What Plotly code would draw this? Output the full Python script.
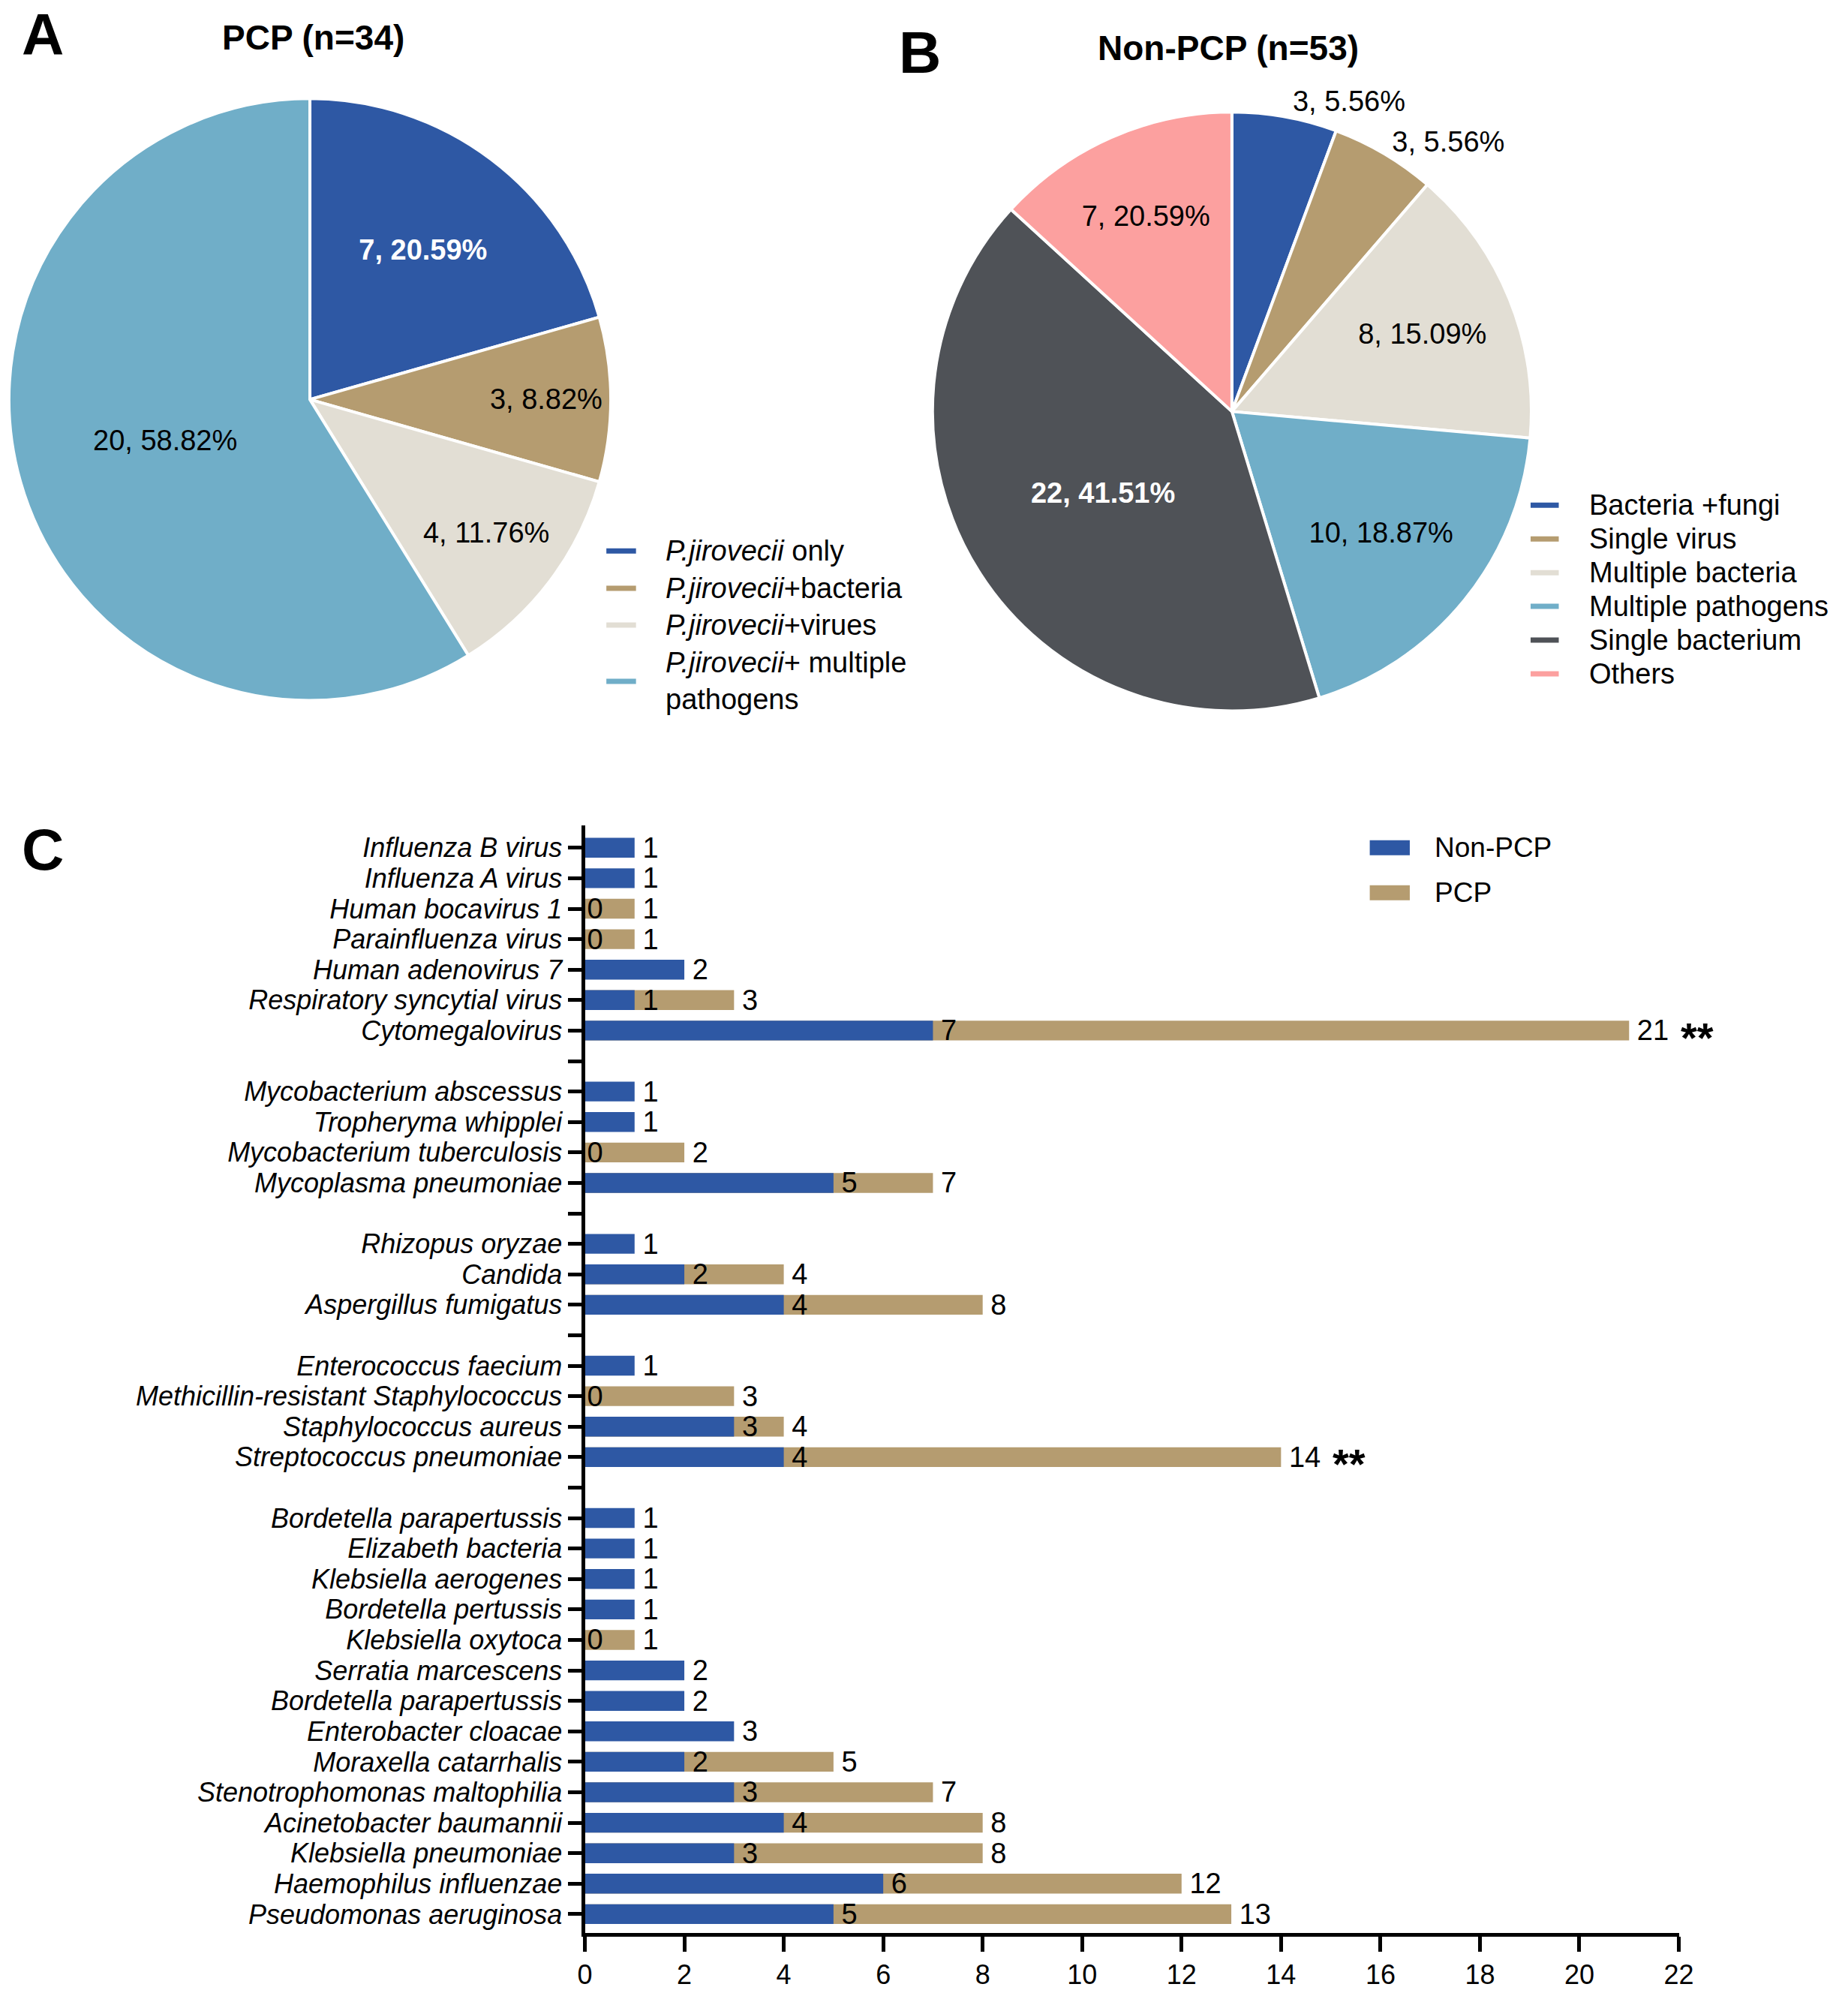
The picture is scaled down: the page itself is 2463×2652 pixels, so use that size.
import plotly.graph_objects as go

W, H = 2463, 2652
FONT = "Liberation Sans, Arial, sans-serif"

BLUE = "#2E58A4"
TAN = "#B59C70"
BEIGE = "#E2DED4"
LBLUE = "#70AEC8"
GRAY = "#4F5257"
PINK = "#FCA09F"

# ---------------- Panel A data ----------------
pcp_groups = ["<i>P.jirovecii</i> only", "<i>P.jirovecii</i>+bacteria",
              "<i>P.jirovecii</i>+virues", "<i>P.jirovecii</i>+ multiple<br>pathogens"]
pcp_counts = [7, 3, 4, 20]
pcp_pcts = ["20.59%", "8.82%", "11.76%", "58.82%"]
pcp_colors = [BLUE, TAN, BEIGE, LBLUE]

# ---------------- Panel B data ----------------
nonpcp_groups = ["Bacteria +fungi", "Single virus", "Multiple bacteria",
                 "Multiple pathogens", "Single bacterium", "Others"]
nonpcp_counts = [3, 3, 8, 10, 22, 7]
nonpcp_pcts = ["5.56%", "5.56%", "15.09%", "18.87%", "41.51%", "20.59%"]
nonpcp_colors = [BLUE, TAN, BEIGE, LBLUE, GRAY, PINK]

# ---------------- Panel C data ----------------
pathogens = [
    "Influenza B virus", "Influenza A virus", "Human bocavirus 1", "Parainfluenza virus",
    "Human adenovirus 7", "Respiratory syncytial virus", "Cytomegalovirus",
    "Mycobacterium abscessus", "Tropheryma whipplei", "Mycobacterium tuberculosis",
    "Mycoplasma pneumoniae",
    "Rhizopus oryzae", "Candida", "Aspergillus fumigatus",
    "Enterococcus faecium", "Methicillin-resistant Staphylococcus", "Staphylococcus aureus",
    "Streptococcus pneumoniae",
    "Bordetella parapertussis", "Elizabeth bacteria", "Klebsiella aerogenes",
    "Bordetella pertussis", "Klebsiella oxytoca", "Serratia marcescens",
    "Bordetella parapertussis", "Enterobacter cloacae", "Moraxella catarrhalis",
    "Stenotrophomonas maltophilia", "Acinetobacter baumannii", "Klebsiella pneumoniae",
    "Haemophilus influenzae", "Pseudomonas aeruginosa",
]
non_pcp = [1, 1, 0, 0, 2, 1, 7,
           1, 1, 0, 5,
           1, 2, 4,
           1, 0, 3, 4,
           1, 1, 1, 1, 0, 2, 2, 3, 2, 3, 4, 3, 6, 5]
pcp = [0, 0, 1, 1, 0, 3, 21,
       0, 0, 2, 7,
       0, 4, 8,
       0, 3, 4, 14,
       0, 0, 0, 0, 1, 0, 0, 0, 5, 7, 8, 8, 12, 13]
significance = ["", "", "", "", "", "", "**",
                "", "", "", "",
                "", "", "",
                "", "", "", "**",
                "", "", "", "", "", "", "", "", "", "", "", "", "", ""]
group_sizes = [7, 4, 3, 4, 14]
x_ticks = [0, 2, 4, 6, 8, 10, 12, 14, 16, 18, 20, 22]
X_MAX = 22

# row positions with a blank row between groups
positions, gap_positions = [], []
row = 0
for gi, size in enumerate(group_sizes):
    for _ in range(size):
        positions.append(row)
        row += 1
    if gi < len(group_sizes) - 1:
        gap_positions.append(row)
        row += 1
tick_map = {p: f"<i>{n}</i>" for p, n in zip(positions, pathogens)}
for g in gap_positions:
    tick_map[g] = ""
tickvals = sorted(tick_map)
ticktext = [tick_map[v] for v in tickvals]

fig = go.Figure()

def px_x(x):
    return x / W

def px_y(y):
    return 1 - y / H

# ---------------- Pies ----------------
def pie_texts(counts, pcts, bold_idx):
    out = []
    for i, (c, p) in enumerate(zip(counts, pcts)):
        t = f"{c}, {p}"
        out.append(f"<b>{t}</b>" if i in bold_idx else t)
    return out

cxA, cyA, rA = 408, 533, 406
fig.add_trace(go.Pie(
    values=pcp_counts, labels=[g.replace("<br>", " ") for g in pcp_groups],
    text=pie_texts(pcp_counts, pcp_pcts, [0]), textinfo="text",
    sort=False, direction="clockwise", rotation=0,
    marker=dict(colors=pcp_colors, line=dict(color="white", width=4)),
    textposition="inside", insidetextorientation="horizontal",
    textfont=dict(family=FONT, size=38, color=["white", "black", "black", "black"]),
    domain=dict(x=[px_x(cxA - rA), px_x(cxA + rA)], y=[px_y(cyA + rA), px_y(cyA - rA)]),
    showlegend=False, hoverinfo="label+value",
))

cxB, cyB, rB = 1652, 549, 404
fig.add_trace(go.Pie(
    values=nonpcp_counts, labels=nonpcp_groups,
    text=pie_texts(nonpcp_counts, nonpcp_pcts, [4]), textinfo="text",
    sort=False, direction="clockwise", rotation=0,
    marker=dict(colors=nonpcp_colors, line=dict(color="white", width=4)),
    textposition=["outside", "outside", "inside", "inside", "inside", "inside"],
    insidetextorientation="horizontal",
    textfont=dict(family=FONT, size=38,
                  color=["black", "black", "black", "black", "white", "black"]),
    domain=dict(x=[px_x(cxB - rB), px_x(cxB + rB)], y=[px_y(cyB + rB), px_y(cyB - rB)]),
    showlegend=False, hoverinfo="label+value",
))

# ---------------- Bars ----------------
pcp_text = ["\u2009" + str(v) if v > 0 else "" for v in pcp]
non_text = [("\u2009" + str(v)) if v > 0 else str(v) for v in non_pcp]
fig.add_trace(go.Bar(
    x=pcp, y=positions, orientation="h", name="PCP",
    marker=dict(color=TAN, line=dict(width=0)), width=0.65,
    text=pcp_text, textposition="outside", constraintext="none", cliponaxis=False,
    textfont=dict(family=FONT, size=38, color="black"),
    xaxis="x", yaxis="y", showlegend=False,
))
fig.add_trace(go.Bar(
    x=non_pcp, y=positions, orientation="h", name="Non-PCP",
    marker=dict(color=BLUE, line=dict(width=0)), width=0.65,
    text=non_text, textposition="outside", constraintext="none", cliponaxis=False,
    textfont=dict(family=FONT, size=38, color="black"),
    xaxis="x", yaxis="y", showlegend=False,
))

# significance stars (placed relative to the x-axis domain, derived from the bar totals)
for p, tot, s in zip(positions, pcp, significance):
    if s:
        fig.add_annotation(x=(tot + 1.0) / X_MAX, y=p, xref="x domain", yref="y",
                           text=f"<b>{s}</b>", showarrow=False, xanchor="left",
                           yanchor="middle", yshift=-9,
                           font=dict(family=FONT, size=56, color="black"))

x0_px, x1_px = 779, 2255
y_top_px, y_bot_px = 1101, 2579
fig.update_layout(
    barmode="overlay",
    width=W, height=H,
    margin=dict(l=0, r=0, t=0, b=0),
    paper_bgcolor="white", plot_bgcolor="white",
    font=dict(family=FONT, color="black"),
    xaxis=dict(domain=[px_x(x0_px), px_x(x1_px)], range=[0, X_MAX], tickvals=x_ticks,
               showgrid=False, zeroline=False, showline=True, linecolor="black", linewidth=5,
               ticks="outside", ticklen=20, tickwidth=5, tickcolor="black",
               tickfont=dict(family=FONT, size=36, color="black"), anchor="y"),
    yaxis=dict(domain=[px_y(y_bot_px), px_y(y_top_px)], range=[35.62, -0.74],
               tickvals=tickvals, ticktext=ticktext,
               showgrid=False, zeroline=False, showline=True, linecolor="black", linewidth=5,
               ticks="outside", ticklen=18, tickwidth=5, tickcolor="black",
               tickfont=dict(family=FONT, size=36, color="black"), anchor="x"),
)

# ---------------- Titles and panel letters ----------------
def ann(x, y, text, size, xanchor="center", bold=False):
    fig.add_annotation(x=px_x(x), y=px_y(y), xref="paper", yref="paper",
                       text=f"<b>{text}</b>" if bold else text, showarrow=False,
                       xanchor=xanchor, yanchor="middle",
                       font=dict(family=FONT, size=size, color="black"))

ann(48, 46, "A", 78, bold=True)
ann(1231, 70, "B", 78, bold=True)
ann(48, 1133, "C", 78, bold=True)
ann(413, 50, "PCP (n=34)", 46, bold=True)
ann(1647, 64, "Non-PCP (n=53)", 46, bold=True)

# ---------------- Legends ----------------
def dash(x0, x1, yc, color, thick):
    fig.add_shape(type="rect", xref="paper", yref="paper",
                  x0=px_x(x0), x1=px_x(x1), y0=px_y(yc + thick / 2), y1=px_y(yc - thick / 2),
                  fillcolor=color, line=dict(width=0))

legA_y = [735, 785, 834, 909]
for lab, col, yc in zip(pcp_groups, pcp_colors, legA_y):
    dash(808, 848, yc, col, 7)
    fig.add_annotation(x=px_x(886), y=px_y(yc), xref="paper", yref="paper", text=lab,
                       showarrow=False, xanchor="left", yanchor="middle", align="left",
                       font=dict(family=FONT, size=38, color="black"))

legB_y = [674, 719, 764, 809, 854, 899]
for lab, col, yc in zip(nonpcp_groups, nonpcp_colors, legB_y):
    dash(2055, 2093, yc, col, 7)
    fig.add_annotation(x=px_x(2132), y=px_y(yc), xref="paper", yref="paper", text=lab,
                       showarrow=False, xanchor="left", yanchor="middle",
                       font=dict(family=FONT, size=38, color="black"))

for lab, col, yc in zip(["Non-PCP", "PCP"], [BLUE, TAN], [1131, 1191]):
    dash(1838, 1892, yc, col, 20)
    fig.add_annotation(x=px_x(1923), y=px_y(yc), xref="paper", yref="paper", text=lab,
                       showarrow=False, xanchor="left", yanchor="middle",
                       font=dict(family=FONT, size=37, color="black"))

fig.write_html("out.html", config={"displayModeBar": False},
               post_script="document.body.style.margin='0';document.body.style.overflow='hidden';")
